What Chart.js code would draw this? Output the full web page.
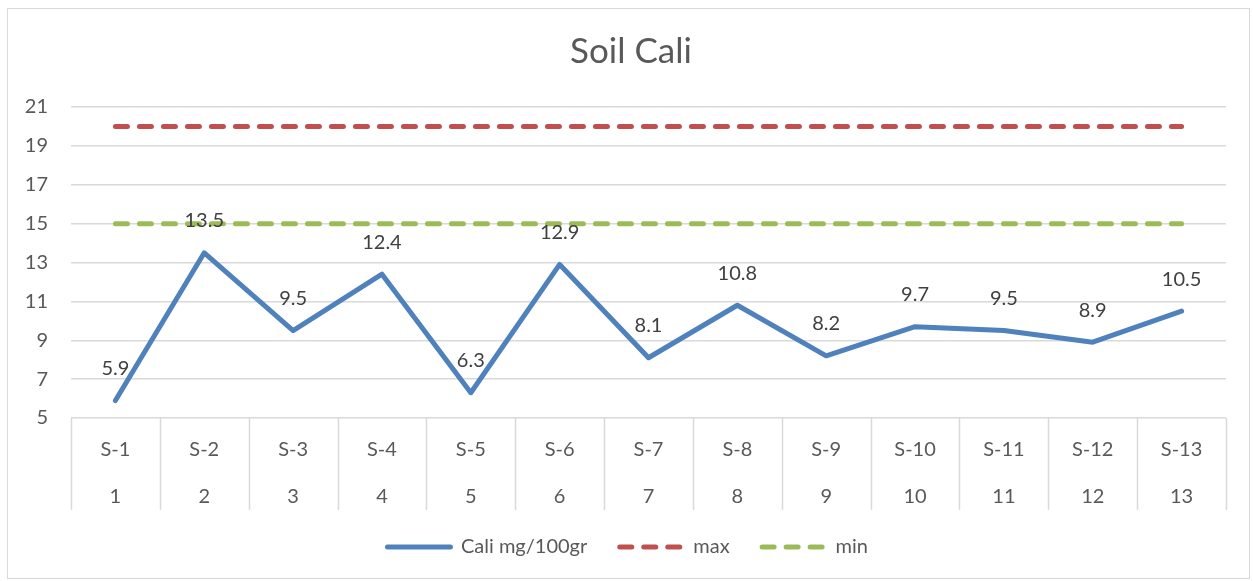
<!DOCTYPE html>
<html>
<head>
<meta charset="utf-8">
<script src="https://cdn.jsdelivr.net/npm/chart.js@4.4.0/dist/chart.umd.min.js"></script>
<style>
  html, body { margin: 0; padding: 0; background: #fff; }
  #wrap { width: 1253px; height: 581px; position: relative; }
</style>
</head>
<body>
<div id="wrap"><canvas id="chart"></canvas></div>
<script>
// chart data
const sampleNames = ['S-1', 'S-2', 'S-3', 'S-4', 'S-5', 'S-6', 'S-7', 'S-8', 'S-9', 'S-10', 'S-11', 'S-12', 'S-13'];
const sampleNumbers = ['1', '2', '3', '4', '5', '6', '7', '8', '9', '10', '11', '12', '13'];
const caliValues = [5.9, 13.5, 9.5, 12.4, 6.3, 12.9, 8.1, 10.8, 8.2, 9.7, 9.5, 8.9, 10.5];
const maxValues = [20, 20, 20, 20, 20, 20, 20, 20, 20, 20, 20, 20, 20];
const minValues = [15, 15, 15, 15, 15, 15, 15, 15, 15, 15, 15, 15, 15];
const yTicks = [5, 7, 9, 11, 13, 15, 17, 19, 21];
const chartTitle = 'Soil Cali';

const FONT = "Lato, 'Liberation Sans', sans-serif";
const GRID = '#d9d9d9';
const TEXT = '#595959';
const TICK_SIZE = 20;

// outer frame round the whole chart, plus the title
const framePlugin = {
    id: 'frame',
    beforeDraw(chart) {
        const ctx = chart.ctx;
        ctx.save();
        ctx.fillStyle = '#fff';
        ctx.fillRect(0, 0, chart.width, chart.height);
        ctx.strokeStyle = GRID;
        ctx.lineWidth = 1;
        ctx.strokeRect(7.5, 8.5, chart.width - 11, chart.height - 11);
        // title sits a little left of the plot centre, as in the original
        ctx.font = '35px ' + FONT;
        ctx.fillStyle = TEXT;
        ctx.textAlign = 'center';
        ctx.textBaseline = 'middle';
        ctx.fillText(chartTitle, 631, 52);
        ctx.restore();
    }
};

// vertical separators between the category cells below the axis
const separatorPlugin = {
    id: 'separators',
    afterDraw(chart) {
        const x = chart.scales.x;
        const ctx = chart.ctx;
        const half = (x.getPixelForValue(1) - x.getPixelForValue(0)) / 2;
        ctx.save();
        ctx.strokeStyle = GRID;
        ctx.lineWidth = 1.5;
        for (let i = 0; i <= sampleNames.length; i++) {
            const px = Math.round(x.getPixelForValue(i) - half) + 0.5;
            ctx.beginPath();
            ctx.moveTo(px, x.top);
            ctx.lineTo(px, x.top + 92);
            ctx.stroke();
        }
        ctx.restore();
    }
};

// value labels above the blue line
const valueLabelPlugin = {
    id: 'valueLabels',
    afterDatasetsDraw(chart) {
        const meta = chart.getDatasetMeta(0);
        const ctx = chart.ctx;
        ctx.save();
        ctx.font = TICK_SIZE + 'px ' + FONT;
        ctx.fillStyle = '#404040';
        ctx.textAlign = 'center';
        ctx.textBaseline = 'middle';
        meta.data.forEach((pt, i) => {
            ctx.fillText(String(caliValues[i]), pt.x, pt.y - 32);
        });
        ctx.restore();
    }
};

// legend drawn by hand so the dashed samples keep their dash pattern
const legendPlugin = {
    id: 'dashLegend',
    afterDraw(chart) {
        const ctx = chart.ctx;
        const sets = chart.data.datasets;
        const sampleW = 68, textGap = 8, itemGap = 30, cy = 547;
        ctx.save();
        ctx.font = TICK_SIZE + 'px ' + FONT;
        const widths = sets.map(ds => sampleW + textGap + ctx.measureText(ds.label).width);
        const total = widths.reduce((a, b) => a + b, 0) + itemGap * (sets.length - 1);
        let x = (chart.width - total) / 2;
        sets.forEach((ds, i) => {
            ctx.strokeStyle = ds.borderColor;
            ctx.lineWidth = ds.borderWidth;
            ctx.lineCap = 'round';
            ctx.setLineDash(ds.borderDash || []);
            ctx.beginPath();
            ctx.moveTo(x + 2.5, cy);
            ctx.lineTo(x + sampleW - 2.5, cy);
            ctx.stroke();
            ctx.setLineDash([]);
            ctx.fillStyle = TEXT;
            ctx.textAlign = 'left';
            ctx.textBaseline = 'middle';
            ctx.fillText(ds.label, x + sampleW + textGap, cy);
            x += widths[i] + itemGap;
        });
        ctx.restore();
    }
};

new Chart(document.getElementById('chart'), {
    type: 'line',
    data: {
        labels: sampleNames.map((n, i) => [n, sampleNumbers[i]]),
        datasets: [
            {
                label: 'Cali mg/100gr',
                data: caliValues,
                borderColor: '#4f81bd',
                backgroundColor: '#4f81bd',
                borderWidth: 5,
                borderCapStyle: 'round',
                borderJoinStyle: 'round',
                pointRadius: 0,
                tension: 0
            },
            {
                label: 'max',
                data: maxValues,
                borderColor: '#c0504d',
                backgroundColor: '#c0504d',
                borderWidth: 5,
                borderDash: [12, 12],
                borderCapStyle: 'round',
                pointRadius: 0
            },
            {
                label: 'min',
                data: minValues,
                borderColor: '#9bbb59',
                backgroundColor: '#9bbb59',
                borderWidth: 5,
                borderDash: [12, 12],
                borderCapStyle: 'round',
                pointRadius: 0
            }
        ]
    },
    options: {
        responsive: true,
        maintainAspectRatio: false,
        animation: false,
        layout: { padding: { top: 107, right: 27, bottom: 53, left: 0 } },
        plugins: {
            title: { display: false },
            legend: { display: false },
            tooltip: { enabled: false }
        },
        scales: {
            x: {
                offset: true,
                grid: { display: false },
                border: { display: false },
                ticks: {
                    color: TEXT,
                    font: { family: FONT, size: TICK_SIZE, lineHeight: 2.35 },
                    maxRotation: 0,
                    autoSkip: false,
                    padding: 0
                },
                afterFit(scale) { scale.height = 110; }
            },
            y: {
                min: 5,
                max: 21,
                afterBuildTicks(scale) { scale.ticks = yTicks.map(v => ({ value: v })); },
                grid: { color: GRID, lineWidth: 1.5, drawTicks: false },
                border: { display: false },
                ticks: {
                    color: TEXT,
                    font: { family: FONT, size: TICK_SIZE },
                    padding: 23
                },
                afterFit(scale) { scale.width = 71; }
            }
        }
    },
    plugins: [framePlugin, separatorPlugin, valueLabelPlugin, legendPlugin]
});
</script>
</body>
</html>
